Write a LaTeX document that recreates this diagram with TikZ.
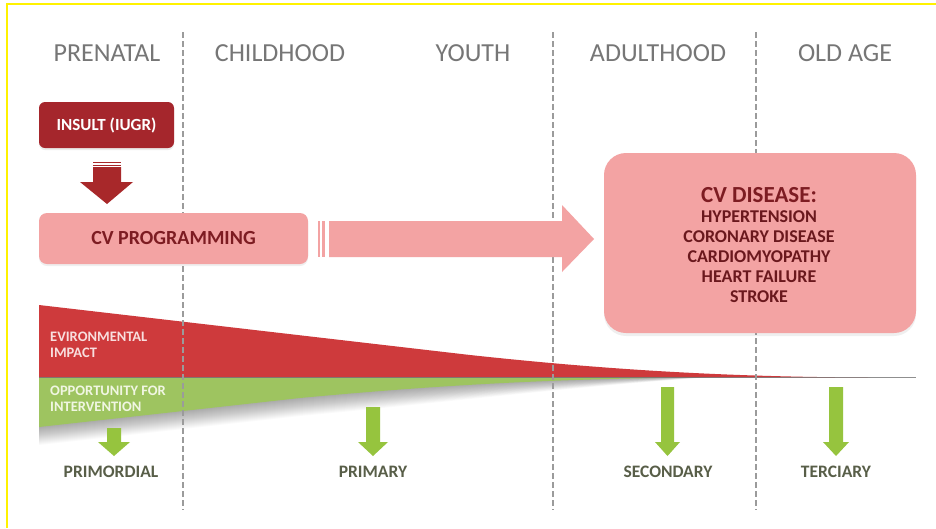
\documentclass[tikz,border=0pt]{standalone}
\usepackage{fontspec}
\setmainfont{Carlito}
\usetikzlibrary{shadows}
\definecolor{hdrgray}{RGB}{118,118,118}
\definecolor{insultred}{RGB}{165,38,44}
\definecolor{arrowred}{RGB}{168,40,42}
\definecolor{boxpink}{RGB}{243,163,163}
\definecolor{darktext}{RGB}{125,28,34}
\definecolor{wedgered}{RGB}{206,58,60}
\definecolor{wedgegreen}{RGB}{158,196,96}
\definecolor{arrowgreen}{RGB}{150,196,62}
\definecolor{labeltext}{RGB}{88,94,72}
\definecolor{dashgray}{RGB}{155,155,155}
\definecolor{envtext}{RGB}{248,222,222}
\definecolor{opptext}{RGB}{240,246,226}
\tikzset{
  hdr/.style={text=hdrgray, font=\fontsize{26}{30}\selectfont, anchor=center},
  dashline/.style={draw=dashgray, line width=1.8pt, dash pattern=on 6pt off 3pt},
  lbl/.style={text=labeltext, font=\fontsize{17.5}{20}\selectfont\bfseries},
  wedgetext/.style={font=\fontsize{14.5}{18}\selectfont\bfseries, align=left, anchor=west, inner sep=0pt},
  greenarrow/.style={fill=arrowgreen},
}
\begin{document}
\begin{tikzpicture}[x=1pt,y=-1pt]
\useasboundingbox (0,0) rectangle (936,528);
\fill[white] (0,0) rectangle (936,528);
% yellow frame
\draw[yellow, line width=1.8pt] (7,528) -- (7,3.6) -- (936,3.6);

% headers
\node[hdr] (h1) at (107,53) {PRENATAL};
\node[hdr] (h2) at (280,53) {CHILDHOOD};
\node[hdr] (h3) at (473,53) {YOUTH};
\node[hdr] (h4) at (658,53) {ADULTHOOD};
\node[hdr] (h5) at (845,53) {OLD AGE};

% soft shadow under green wedge
\foreach \d in {1,2,...,18} {
  \fill[black, opacity=0.018] (39,377) -- (39,427+\d) -- (300,398+\d) .. controls (450,384+\d) and (560,379+0.5*\d) .. (710,377) -- cycle;
}
% red wedge
\fill[wedgered] (39,305) -- (470,355) .. controls (600,369) and (720,377) .. (870,377.5) -- (39,377.5) -- cycle;
% green wedge
\fill[wedgegreen] (39,377.5) -- (39,427) -- (300,398) .. controls (450,384) and (560,379) .. (690,377.5) -- cycle;
% boundary line
\draw[black!55, line width=1.1pt, opacity=0.8] (39,377.5) -- (916,377.5);

% dashed separators
\draw[dashline] (183,32) -- (183,510);
\draw[dashline] (553,32) -- (553,510);
\draw[dashline] (756,32) -- (756,510);

% wedge texts
\node[wedgetext, text=envtext] (env) at (50,345) {EVIRONMENTAL\\[-2pt]IMPACT};
\node[wedgetext, text=opptext] (opp) at (50,399) {OPPORTUNITY FOR\\[-2pt]INTERVENTION};

% insult box
\node[fill=insultred, rounded corners=6pt, minimum width=135pt, minimum height=46pt, text=white,
      font=\fontsize{17}{20}\selectfont\bfseries, drop shadow={opacity=0.15, shadow xshift=0pt, shadow yshift=-2pt}]
      (insult) at (106.5,125) {INSULT (IUGR)};

% striped down arrow
\fill[arrowred] (93,162) rectangle (121,163.4);
\fill[arrowred] (93,164.6) rectangle (121,166);
\fill[arrowred] (93,167) -- (121,167) -- (121,182) -- (133,182) -- (107,204) -- (80,182) -- (93,182) -- cycle;

% CV programming
\node[fill=boxpink, rounded corners=8pt, minimum width=269pt, minimum height=51pt, text=darktext,
      font=\fontsize{20}{24}\selectfont\bfseries, drop shadow={opacity=0.12, shadow xshift=0pt, shadow yshift=-2pt}]
      (prog) at (173.5,238.5) {CV PROGRAMMING};

% big striped right arrow
\fill[boxpink] (318,221) rectangle (320,257);
\fill[boxpink] (322,221) rectangle (325,257);
\fill[boxpink] (329,221) -- (562,221) -- (562,205) -- (594,239) -- (562,272) -- (562,257) -- (329,257) -- cycle;

% CV disease box
\node[fill=boxpink, rounded corners=22pt, minimum width=312pt, minimum height=180pt, text=darktext, align=center,
      drop shadow={opacity=0.12, shadow xshift=0pt, shadow yshift=-3pt}]
      (disease) at (760,243) {};
\node[text=darktext, font=\fontsize{23}{26}\selectfont\bfseries] (dtitle) at (759,195) {CV DISEASE:};
\node[text=darktext!85!black, font=\fontsize{18}{20}\selectfont\bfseries, align=center, inner sep=0pt]
      (dlist) at (759,257) {HYPERTENSION\\CORONARY DISEASE\\CARDIOMYOPATHY\\HEART FAILURE\\STROKE};

% green down arrows
\fill[greenarrow] (107,428) -- (121,428) -- (121,442) -- (130,442) -- (114,456) -- (98,442) -- (107,442) -- cycle;
\fill[greenarrow] (366,407) -- (380,407) -- (380,442) -- (388,442) -- (373,456) -- (358,442) -- (366,442) -- cycle;
\fill[greenarrow] (661,387) -- (674,387) -- (674,442) -- (680,442) -- (667.5,456) -- (655,442) -- (661,442) -- cycle;
\fill[greenarrow] (829,387) -- (843,387) -- (843,442) -- (849,442) -- (836,456) -- (823,442) -- (829,442) -- cycle;

% prevention labels
\node[lbl] (prim) at (111,472) {PRIMORDIAL};
\node[lbl] (primary) at (373,472) {PRIMARY};
\node[lbl] (second) at (668,472) {SECONDARY};
\node[lbl] (tert) at (836,472) {TERCIARY};
\end{tikzpicture}
\end{document}
